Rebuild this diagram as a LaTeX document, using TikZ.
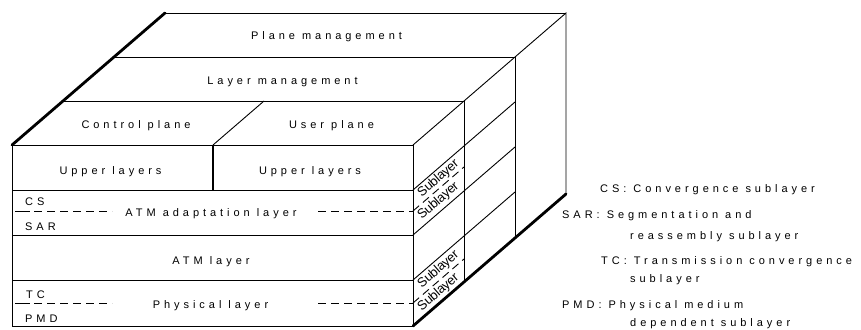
\documentclass[tikz,border=0pt]{standalone}
\usepackage{fontspec}
\setmainfont{Liberation Sans}[LetterSpace=36]
\newfontfamily\subfont{Liberation Sans}[LetterSpace=-2]
\begin{document}
\begin{tikzpicture}[x=1pt,y=-1pt,line join=miter,
  thinline/.style={line width=0.9pt},
  thickline/.style={line width=2.8pt,line cap=round},
  midline/.style={line width=1.8pt},
  dashline/.style={line width=0.9pt,dash pattern=on 8pt off 5pt},
  txt/.style={inner sep=0pt,font=\fontsize{11}{13}\selectfont},
  subtxt/.style={inner sep=0pt,rotate=40.8,font=\subfont\fontsize{13}{14}\selectfont}]
\useasboundingbox (0,0) rectangle (861,329);
% corner coordinates
\coordinate (FTL) at (12,145);
\coordinate (FTR) at (413,145);
\coordinate (FBL) at (12,326);
\coordinate (FBR) at (413,326);
\coordinate (T1L) at (63,101);
\coordinate (T1R) at (464,101);
\coordinate (T2L) at (114,57);
\coordinate (T2R) at (515,57);
\coordinate (T3L) at (165,13);
\coordinate (T3R) at (566,13);
\coordinate (B1) at (464,282);
\coordinate (B2) at (515,238);
\coordinate (B3) at (566,194);
% front face
\draw[thinline] (FTL) rectangle (FBR);
\foreach \y in {190,235,280} \draw[thinline] (12,\y) -- (413,\y);
\draw[midline] (213,145) -- (213,190);
% top face
\draw[thinline] (T1L) -- (T1R);
\draw[thinline] (T2L) -- (T2R);
\draw[thinline] (T3L) -- (T3R);
\draw[thinline] (213,145) -- (264,101);
% right side
\draw[thinline] (FTR) -- (T3R) -- (B3);
\draw[thinline] (T1R) -- (B1);
\draw[thinline] (T2R) -- (B2);
\foreach \y in {190,235,280} \draw[thinline] (413,\y) -- ++(102,-88);
\draw[dashline] (413,211) -- ++(51,-44);
\draw[dashline] (413,303) -- ++(51,-44);
% thick edges
\draw[thickline] (FTL) -- (T3L);
\draw[thickline] (FBR) -- (B3);
% dashed lines on front
\draw[thinline] (15,211) -- (30,211);
\draw[dashline] (34,211) -- (112,211);
\draw[dashline] (318,211) -- (413,211);
\draw[thinline] (15,303) -- (30,303);
\draw[dashline] (34,303) -- (112,303);
\draw[dashline] (318,303) -- (413,303);
% texts
\node[txt,anchor=base] (pm) at (326.5,40) {Plane management};
\node[txt,anchor=base] (lm) at (282.5,84) {Layer management};
\node[txt,anchor=base] (cp) at (136,128) {Control plane};
\node[txt,anchor=base] (up) at (331.5,128) {User plane};
\node[txt,anchor=base] (ul1) at (110.5,174) {Upper layers};
\node[txt,anchor=base] (ul2) at (310,174) {Upper layers};
\node[txt,anchor=base west] (cs) at (25,205) {CS};
\node[txt,anchor=base west] (sar) at (25,230) {SAR};
\node[txt,anchor=base] (aal) at (211,216) {ATM adaptation layer};
\node[txt,anchor=base] (atm) at (211,264) {ATM layer};
\node[txt,anchor=base west] (tc) at (26,298) {TC};
\node[txt,anchor=base west] (pmd) at (25,322) {PMD};
\node[txt,anchor=base] (phy) at (210.5,308) {Physical layer};
% sublayer labels on side
\node[subtxt] (s1) at (438.5,178.5) {Sublayer};
\node[subtxt] (s2) at (438.5,201) {Sublayer};
\node[subtxt] (s3) at (438.5,269.5) {Sublayer};
\node[subtxt] (s4) at (438.5,292.5) {Sublayer};
% legend
\node[txt,anchor=base west] (l1) at (600,192.7) {CS: Convergence sublayer};
\node[txt,anchor=base west] (l2) at (562,218) {SAR: Segmentation and};
\node[txt,anchor=base west] (l3) at (630,239) {reassembly sublayer};
\node[txt,anchor=base west] (l4) at (601,264) {TC: Transmission convergence};
\node[txt,anchor=base west] (l5) at (630,282.7) {sublayer};
\node[txt,anchor=base west] (l6) at (562,308) {PMD: Physical medium};
\node[txt,anchor=base west] (l7) at (630,326.7) {dependent sublayer};
\end{tikzpicture}
\end{document}
